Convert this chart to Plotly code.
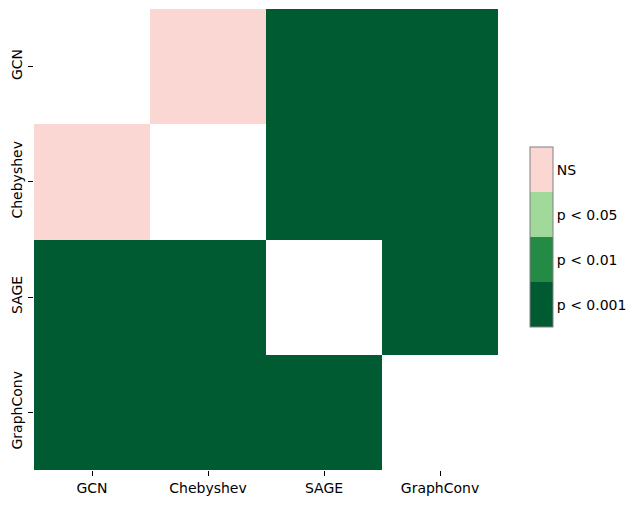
import plotly.graph_objects as go

# Models compared in the post-hoc test
models = ["GCN", "Chebyshev", "SAGE", "GraphConv"]

# Significance level per pair (None on the diagonal)
sig_gcn = [None, "NS", "p < 0.001", "p < 0.001"]
sig_cheb = ["NS", None, "p < 0.001", "p < 0.001"]
sig_sage = ["p < 0.001", "p < 0.001", None, "p < 0.001"]
sig_graphconv = ["p < 0.001", "p < 0.001", "p < 0.001", None]

# Colorbar categories, bottom to top
levels = ["p < 0.001", "p < 0.01", "p < 0.05", "NS"]
level_colors = ["#005a32", "#238b45", "#a1d99b", "#fbd7d4"]

rows = [sig_gcn, sig_cheb, sig_sage, sig_graphconv]
z = [[None if v is None else levels.index(v) for v in r] for r in rows]

n = len(levels)
colorscale = []
for i, c in enumerate(level_colors):
    colorscale.append([i / n, c])
    colorscale.append([(i + 1) / n, c])

font = dict(family="DejaVu Sans", size=14, color="black")

fig = go.Figure(
    go.Heatmap(
        z=z,
        x=models,
        y=models,
        colorscale=colorscale,
        zmin=-0.5,
        zmax=n - 0.5,
        hoverinfo="skip",
        colorbar=dict(
            tickvals=list(range(n)),
            ticktext=levels,
            ticks="",
            x=(530 - 34) / 464,
            xanchor="left",
            xpad=0,
            ypad=0,
            y=0.505,
            yanchor="middle",
            len=180 / 461,
            lenmode="fraction",
            thickness=23,
            thicknessmode="pixels",
            outlinecolor="#808080",
            outlinewidth=1,
            tickfont=font,
        ),
    )
)

# page body adds an 8px margin, so the figure is sized to fit inside it
fig.update_layout(
    width=628,
    height=497,
    margin=dict(l=26, r=138, t=1, b=35),
    plot_bgcolor="white",
    paper_bgcolor="white",
    font=font,
)
fig.update_xaxes(
    showgrid=False, zeroline=False, showline=False, automargin=False,
    ticks="outside", ticklen=5, tickcolor="black", tickwidth=1,
    tickfont=font,
)
fig.update_yaxes(
    autorange="reversed", showgrid=False, zeroline=False, showline=False,
    automargin=False,
    ticks="outside", ticklen=5, tickcolor="black", tickwidth=1,
    tickangle=-90, tickfont=font, ticklabelstandoff=0,
)

fig.write_html("out.html")
